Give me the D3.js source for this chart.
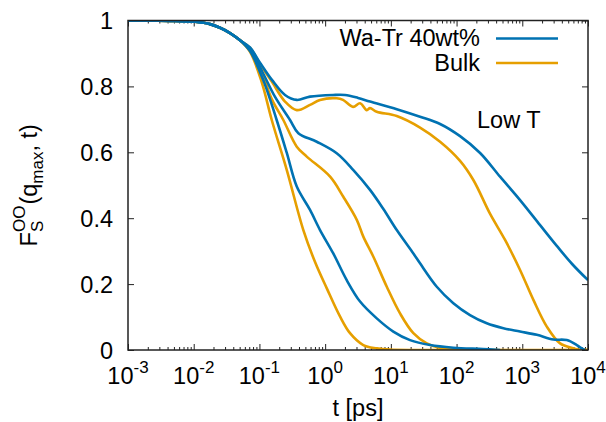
<!DOCTYPE html>
<html>
<head>
<meta charset="utf-8">
<script src="https://cdn.jsdelivr.net/npm/d3@7"></script>
<style>
  body { margin: 0; background: #fff; }
  svg { display: block; font-family: "Liberation Sans", Arial, sans-serif; }
  .tick line { stroke: #222; stroke-width: 1; }
  .curve { fill: none; stroke-width: 2.6; stroke-linejoin: round; }
</style>
</head>
<body>
<svg id="chart" width="606" height="422"></svg>
<script>
// F_S^OO(q_max, t), [t in ps, F]
var early = [[0.001, 1.0], [0.00435, 0.999], [0.0105, 0.996], [0.0177, 0.989], [0.0251, 0.978],
  [0.0357, 0.962], [0.0507, 0.940]];

var bulkA = early.concat([[0.072, 0.905], [0.108, 0.814], [0.154, 0.698], [0.261, 0.546], [0.466, 0.364],
  [0.702, 0.267], [1.06, 0.187], [1.69, 0.101], [2.39, 0.051], [3.81, 0.015], [6.10, 0.005], [9.72, 0.001],
  [27.8, 0], [10000, 0]]);

var waTrA = early.concat([[0.072, 0.907], [0.1175, 0.813], [0.183, 0.698], [0.261, 0.598], [0.370, 0.496],
  [0.589, 0.425], [0.836, 0.364], [1.33, 0.293], [2.13, 0.212], [3.40, 0.147], [6.10, 0.096], [10.9, 0.056],
  [19.6, 0.030], [39.5, 0.015], [89.3, 0.007], [253, 0.003], [460, 0]]);

var bulkB = early.concat([[0.072, 0.912], [0.1096, 0.840], [0.156, 0.759], [0.231, 0.698], [0.370, 0.617],
  [0.525, 0.587], [1.19, 0.526], [1.89, 0.465], [3.03, 0.395], [3.81, 0.344], [5.42, 0.283], [8.67, 0.192],
  [13.8, 0.111], [22.0, 0.051], [35.2, 0.020], [56.1, 0.006], [113, 0.001], [10000, 0]]);

var waTrB = early.concat([[0.072, 0.913], [0.1096, 0.846], [0.173, 0.768], [0.292, 0.698], [0.391, 0.658],
  [0.745, 0.632], [1.50, 0.597], [2.69, 0.546], [4.82, 0.486], [7.69, 0.428], [12.3, 0.364], [22.0, 0.293],
  [27.8, 0.263], [50.0, 0.192], [89.3, 0.142], [160, 0.106], [288, 0.081], [515, 0.066], [925, 0.056],
  [1663, 0.046], [2972, 0.032], [4750, 0.030], [6760, 0.015], [8050, 0.005], [9040, 0]]);

var bulkC = early.concat([[0.072, 0.917], [0.102, 0.868], [0.156, 0.813], [0.245, 0.754], [0.370, 0.728],
  [0.589, 0.744], [0.836, 0.759], [1.50, 0.764], [1.87, 0.759], [2.66, 0.738], [3.40, 0.749], [4.30, 0.728],
  [4.82, 0.734], [6.10, 0.723], [12.3, 0.710], [27.8, 0.675], [56.1, 0.632], [113, 0.574], [180, 0.516],
  [324, 0.413], [547, 0.334], [925, 0.243], [1476, 0.152], [2360, 0.071], [3760, 0.020], [6000, 0.005],
  [7580, 0], [10000, 0]]);

var waTrC = early.concat([[0.072, 0.918], [0.102, 0.872], [0.156, 0.819], [0.245, 0.774], [0.370, 0.759],
  [0.589, 0.769], [1.32, 0.774], [2.01, 0.774], [3.17, 0.765], [4.82, 0.754], [12.3, 0.731], [27.8, 0.708],
  [56.1, 0.686], [113, 0.649], [228, 0.598], [459, 0.526], [925, 0.455], [1866, 0.379], [3350, 0.316],
  [5730, 0.261], [10000, 0.212]]);

var bulkCurves = [bulkA, bulkB, bulkC];
var waTrCurves = [waTrA, waTrB, waTrC];
var xDecades = [-3, -2, -1, 0, 1, 2, 3, 4];
var yTicks = [0, 0.2, 0.4, 0.6, 0.8, 1];
var legendLabels = ["Wa-Tr 40wt%", "Bulk"];

var blue = "#0072b2", orange = "#e69f00";
var fs = 23.5, fsSmall = 17;
var pL = 128, pR = 588, pT = 20.5, pB = 350;

var svg = d3.select("#chart");
var x = d3.scaleLog().domain([1e-3, 1e4]).range([pL, pR]);
var y = d3.scaleLinear().domain([0, 1]).range([pB, pT]);

var majors = xDecades.map(function(p) { return Math.pow(10, p); });
var minors = [];
xDecades.slice(0, -1).forEach(function(p) {
  for (var k = 2; k <= 9; k++) minors.push(k * Math.pow(10, p));
});

function addAxis(axis, tx, ty) {
  var g = svg.append("g").attr("transform", "translate(" + tx + "," + ty + ")").call(axis);
  g.select(".domain").remove();
  g.selectAll("text").remove();
}
addAxis(d3.axisBottom(x).tickValues(majors).tickSize(-6), 0, pB);
addAxis(d3.axisBottom(x).tickValues(minors).tickSize(-3), 0, pB);
addAxis(d3.axisTop(x).tickValues(majors).tickSize(-6), 0, pT);
addAxis(d3.axisTop(x).tickValues(minors).tickSize(-3), 0, pT);
addAxis(d3.axisLeft(y).tickValues(yTicks).tickSize(-6), pL, 0);
addAxis(d3.axisRight(y).tickValues(yTicks).tickSize(-6), pR, 0);

// tick labels
svg.append("g").selectAll("text").data(yTicks).join("text")
  .attr("x", pL - 15).attr("y", function(d) { return y(d) + 8.5; })
  .attr("text-anchor", "end").attr("font-size", fs)
  .text(function(d) { return d; });

var xl = svg.append("g").selectAll("text").data(xDecades).join("text")
  .attr("x", function(d) { return x(Math.pow(10, d)); }).attr("y", 384)
  .attr("text-anchor", "middle").attr("font-size", fs);
xl.append("tspan").text("10");
xl.append("tspan").attr("dy", -11).attr("font-size", fsSmall).text(function(d) { return d; });

// curves
svg.append("clipPath").attr("id", "clip").append("rect")
  .attr("x", pL).attr("y", pT).attr("width", pR - pL).attr("height", pB - pT);

var line = d3.line().x(function(d) { return x(d[0]); }).y(function(d) { return y(d[1]); })
  .curve(d3.curveCatmullRom.alpha(0.5));

var plot = svg.append("g").attr("clip-path", "url(#clip)");
plot.selectAll(".bulk").data(bulkCurves).join("path").attr("class", "curve bulk")
  .attr("stroke", orange).attr("d", line);
plot.selectAll(".watr").data(waTrCurves).join("path").attr("class", "curve watr")
  .attr("stroke", blue).attr("d", line);

// frame
svg.append("rect").attr("x", pL).attr("y", pT).attr("width", pR - pL).attr("height", pB - pT)
  .attr("fill", "none").attr("stroke", "#222").attr("stroke-width", 1.5);

// legend
var leg = svg.append("g").selectAll("g").data(legendLabels).join("g")
  .attr("transform", function(d, i) { return "translate(0," + (i * 24.5) + ")"; });
leg.append("text").attr("x", 480).attr("y", 46).attr("text-anchor", "end").attr("font-size", fs)
  .text(function(d) { return d; });
leg.append("line").attr("x1", 496).attr("x2", 558).attr("y1", 38.5).attr("y2", 38.5)
  .attr("stroke", function(d, i) { return i ? orange : blue; }).attr("stroke-width", 2.6);

svg.append("text").attr("x", 477).attr("y", 128).attr("font-size", fs).text("Low T");

// axis titles
svg.append("text").attr("x", (pL + pR) / 2).attr("y", 416).attr("text-anchor", "middle")
  .attr("font-size", fs).text("t [ps]");

var yt = svg.append("g").attr("transform", "translate(37," + ((pT + pB) / 2) + ") rotate(-90)");
var pos = 0;
function piece(txt, size, shift) {
  var t = yt.append("text").attr("x", pos).attr("y", shift).attr("font-size", size).text(txt);
  return t.node().getComputedTextLength();
}
pos += piece("F", fs, 0);
var wSup = piece("OO", fsSmall, -12);
var wSub = piece("S", fsSmall, 6);
pos += Math.max(wSup, wSub) + 1;
pos += piece("(q", fs, 0);
pos += piece("max", fsSmall, 6);
pos += piece(", t)", fs, 0);
yt.selectAll("text").attr("transform", "translate(" + (-pos / 2) + ",0)");
</script>
</body>
</html>
